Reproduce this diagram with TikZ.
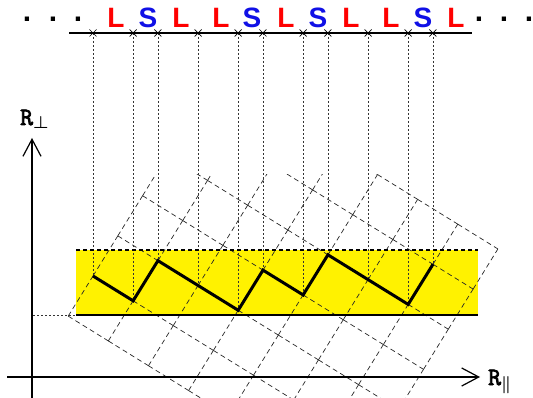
\documentclass[tikz,border=0pt]{standalone}
\usepackage{amsmath}
\usepackage{fontspec}
\newfontfamily\lsfont{Liberation Sans}
\newfontfamily\rfont{Latin Modern Mono}[FakeBold=3]
\usetikzlibrary{arrows.meta}
\begin{document}
\begin{tikzpicture}[x=1pt,y=-1pt,
  lat/.style={dash pattern=on 5pt off 3.5pt, line width=0.7pt, black!85},
  proj/.style={dash pattern=on 2pt off 2pt, line width=0.7pt, black!80},
  chain/.style={line width=3pt},
  axisline/.style={line width=1.2pt, -{Straight Barb[length=17pt,width=18pt,line width=1.2pt]}},
  lett/.style={font=\lsfont\bfseries\fontsize{28}{28}\selectfont, anchor=base, inner sep=0pt},
  Lcol/.style={lett, text=red},
  Scol/.style={lett, text={rgb,255:red,16;green,16;blue,230}},
  dotsty/.style={font=\lsfont\bfseries\fontsize{30}{30}\selectfont, anchor=base, inner sep=0pt, text height=5pt, text depth=0pt},
  rlab/.style={font=\rfont\fontsize{25}{25}\selectfont, anchor=base west, inner sep=0pt},
  xmark/.style={line width=0.7pt}]
\useasboundingbox (0,0) rectangle (533,398);
% strip
\fill[yellow] (76,250) rectangle (478,315);
% lattice
\coordinate (O) at (133.13,300.8);
\begin{scope}
  \clip (0,175) rectangle (533,398);
  \begin{scope}[shift={(O)}, x={(40.13pt,-24.8pt)}, y={(24.8pt,40.13pt)}]
    \foreach \i in {-1,...,6} \foreach \j in {-1,...,4} \draw[lat] (\i,\j) -- (\i,\j+1);
    \foreach \j in {-1,...,5} \foreach \i in {-1,...,5} \draw[lat] (\i,\j) -- (\i+1,\j);
  \end{scope}
\end{scope}
% path vertices
\begin{scope}[shift={(O)}, x={(40.13pt,-24.8pt)}, y={(24.8pt,40.13pt)}]
  \coordinate (p0) at (-1,0);
  \coordinate (p1) at (0,0);
  \coordinate (p2) at (0,1);
  \coordinate (p3) at (1,1);
  \coordinate (p4) at (2,1);
  \coordinate (p5) at (2,2);
  \coordinate (p6) at (3,2);
  \coordinate (p7) at (3,3);
  \coordinate (p8) at (4,3);
  \coordinate (p9) at (5,3);
  \coordinate (p10) at (5,4);
\end{scope}
\coordinate (topy) at (0,33);
\foreach \k in {0,...,10} {
  \coordinate (t\k) at (p\k |- topy);
  \draw[proj] (t\k) -- (p\k);
}
% strip edges
\coordinate (sl) at (76,250); \coordinate (sr) at (478,250);
\coordinate (bl) at (76,315); \coordinate (br) at (478,315);
\coordinate (ax) at (33,315);
\draw[dash pattern=on 4pt off 3pt, line width=1.1pt] (sl) -- (sr);
\draw[line width=1.4pt] (bl) -- (br);
\draw[proj] (ax) -- (bl);
% chain
\draw[chain] (p0) -- (p1) -- (p2) -- (p3) -- (p4) -- (p5) -- (p6) -- (p7) -- (p8) -- (p9) -- (p10);
% top line
\coordinate (tl) at (69,33); \coordinate (tr) at (472,33);
\draw[line width=1.4pt] (tl) -- (tr);
\foreach \k in {0,...,10} {
  \draw[xmark] (t\k) +(-3.5,-3.5) -- +(3.5,3.5) +(-3.5,3.5) -- +(3.5,-3.5);
}
% letters
\node[Lcol] (l1) at (116,28) {L};
\node[Scol] (s1) at (148,28) {S};
\node[Lcol] (l2) at (181,28) {L};
\node[Lcol] (l3) at (221,28) {L};
\node[Scol] (s2) at (252,28) {S};
\node[Lcol] (l4) at (286,28) {L};
\node[Scol] (s3) at (318,28) {S};
\node[Lcol] (l5) at (351,28) {L};
\node[Lcol] (l6) at (391,28) {L};
\node[Scol] (s4) at (423,28) {S};
\node[Lcol] (l7) at (456,28) {L};
\node[dotsty] (d1) at (27,22) {.};
\node[dotsty] (d2) at (53,22) {.};
\node[dotsty] (d3) at (78,22) {.};
\node[dotsty] (d4) at (479,22) {.};
\node[dotsty] (d5) at (504,22) {.};
\node[dotsty] (d6) at (529,22) {.};
% axes
\coordinate (vb) at (32,398); \coordinate (vt) at (32,138);
\coordinate (hl) at (7,377); \coordinate (hr) at (480,377);
\draw[axisline] (vb) -- (vt);
\draw[axisline] (hl) -- (hr);
\node[rlab] (rperp) at (20,125) {R$_{\boldsymbol{\perp}}$};
\node[rlab] (rpar) at (488,385) {R$_{\boldsymbol{\parallel}}$};
\end{tikzpicture}
\end{document}
